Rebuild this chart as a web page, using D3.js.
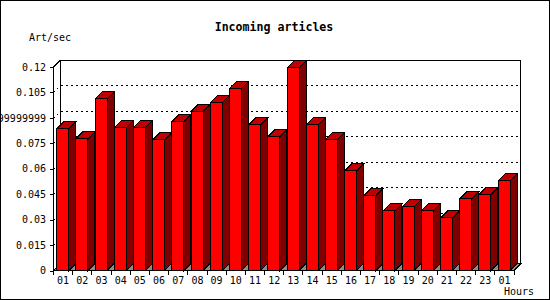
<!DOCTYPE html>
<html>
<head>
	<title>Incoming articles</title>
	<script type="text/javascript" src="https://d3js.org/d3.v7.min.js"></script>
	<style type="text/css">
		body { margin: 0; background: white; }
		svg { display: block; }
		text { font-family: "DejaVu Sans Mono", "Liberation Mono", monospace; font-size: 10px; fill: black; }
		.title { font-weight: bold; font-size: 11.6px; }
		.frame, .axis line, .axis path { fill: none; stroke: black; stroke-width: 1; shape-rendering: crispEdges; }
		.grid { fill: none; stroke: black; stroke-dasharray: 2,3; shape-rendering: crispEdges; }
		.bar polygon, .bar rect { stroke: black; stroke-width: 1; shape-rendering: crispEdges; }
	</style>
</head>
<body>
	<script type="text/javascript">
		// data
		var hours = ["01","02","03","04","05","06","07","08","09","10","11","12",
		             "13","14","15","16","17","18","19","20","21","22","23","01"];
		var artPerSec = [0.0836, 0.0777, 0.1013, 0.0842, 0.0842, 0.0771, 0.0878, 0.0937,
		                 0.0990, 0.1073, 0.0860, 0.0789, 0.1196, 0.0860, 0.0771, 0.0588,
		                 0.0441, 0.0352, 0.0376, 0.0352, 0.0311, 0.0423, 0.0447, 0.0530];
		var yTicks = [0, 0.015, 0.03, 0.045, 0.06, 0.075, 0.09, 0.105, 0.12];
		var yTickLabels = ["0", "0.015", "0.03", "0.045", "0.06", "0.075",
		                   "0.0899999999999999", "0.105", "0.12"];

		var width = 550, height = 300;
		var plotLeft = 53.5, plotRight = 514, plotBottom = 270.5, plotTop = 67;
		var depth = 7;

		var svg = d3.select("body").append("svg")
			.attr("width", width)
			.attr("height", height);

		var xScale = d3.scaleBand()
			.domain(d3.range(hours.length))
			.range([plotLeft, plotRight])
			.paddingInner(0);

		var yScale = d3.scaleLinear()
			.domain([0, 0.12])
			.range([plotBottom, plotTop]);

		var bw = xScale.bandwidth();
		var faceW = 12;
		var faceOff = 3.3;

		// outer border
		svg.append("rect").attr("class", "frame")
			.attr("x", 0.5).attr("y", 0.5).attr("width", 549).attr("height", 299);

		// title and axis names
		svg.append("text").attr("class", "title")
			.attr("x", 274).attr("y", 31).attr("text-anchor", "middle")
			.text("Incoming articles");
		svg.append("text").attr("x", 29).attr("y", 41).text("Art/sec");
		svg.append("text").attr("x", 504).attr("y", 295).text("Hours");

		// floor
		var floorY = yScale(0);
		svg.append("polygon")
			.attr("points", [[plotLeft, floorY], [plotRight, floorY], [plotRight + depth, floorY - depth], [plotLeft + depth, floorY - depth]].join(" "))
			.style("fill", "#8c8c8c").style("stroke", "black").style("shape-rendering", "crispEdges");

		// dotted grid on the back wall
		svg.selectAll(".grid")
			.data(yTicks.filter(function(d){ return d > 0 && d < 0.12; }))
			.enter().append("polyline")
			.attr("class", "grid")
			.attr("points", function(d){
				var y = Math.round(yScale(d)) + 0.5;
				return [[plotLeft, y], [plotLeft + depth, y - depth], [plotRight + depth - 0.5, y - depth]].join(" ");
			});

		// back wall frame
		var wallTop = yScale(0.12) - depth;
		svg.append("polyline").attr("class", "frame")
			.attr("points", [[plotLeft, yScale(0.12)], [plotLeft + depth, wallTop], [plotRight + depth - 0.5, wallTop], [plotRight + depth - 0.5, floorY - depth], [plotRight, floorY]].join(" "));
		svg.append("line").attr("class", "frame")
			.attr("x1", plotLeft + depth).attr("y1", wallTop)
			.attr("x2", plotLeft + depth).attr("y2", floorY - depth);

		// bars
		var bars = svg.selectAll(".bar")
			.data(artPerSec)
			.enter().append("g")
			.attr("class", "bar");

		bars.append("polygon")
			.attr("points", function(d, i){
				var x = xScale(i) + faceOff + faceW, y = yScale(d);
				return [[x, y], [x + depth, y - depth], [x + depth, floorY - depth], [x, floorY]].join(" ");
			})
			.style("fill", "#800000");

		bars.append("rect")
			.attr("x", function(d, i){ return xScale(i) + faceOff; })
			.attr("y", function(d){ return yScale(d); })
			.attr("width", faceW)
			.attr("height", function(d){ return floorY - yScale(d); })
			.style("fill", "#ff0000");

		bars.append("polygon")
			.attr("points", function(d, i){
				var x = xScale(i) + faceOff, y = yScale(d);
				return [[x, y], [x + faceW, y], [x + faceW + depth, y - depth], [x + depth, y - depth]].join(" ");
			})
			.style("fill", "#c00000");

		// y axis
		var yAxis = d3.axisLeft(yScale)
			.tickValues(yTicks)
			.tickFormat(function(d, i){ return yTickLabels[i]; })
			.tickSize(4)
			.tickPadding(3.5)
			.tickSizeOuter(0);

		svg.append("g")
			.attr("class", "axis")
			.attr("transform", "translate(" + plotLeft + ",0)")
			.call(yAxis)
			.call(function(g){ g.select(".domain").remove(); });

		svg.append("line").attr("class", "frame")
			.attr("x1", plotLeft).attr("y1", yScale(0.12))
			.attr("x2", plotLeft).attr("y2", floorY);

		// x axis: ticks on band edges, labels in band centres
		var xa = svg.append("g").attr("class", "axis");
		xa.append("line")
			.attr("x1", plotLeft).attr("y1", floorY)
			.attr("x2", plotRight).attr("y2", floorY);
		xa.selectAll(".tk")
			.data(d3.range(hours.length + 1))
			.enter().append("line")
			.attr("x1", function(i){ return i < hours.length ? xScale(i) : plotRight; })
			.attr("x2", function(i){ return i < hours.length ? xScale(i) : plotRight; })
			.attr("y1", floorY)
			.attr("y2", floorY + 4);
		xa.selectAll("text")
			.data(hours)
			.enter().append("text")
			.attr("x", function(d, i){ return xScale(i) + bw / 2; })
			.attr("y", 283.5)
			.attr("text-anchor", "middle")
			.text(function(d){ return d; });
	</script>
</body>
</html>
